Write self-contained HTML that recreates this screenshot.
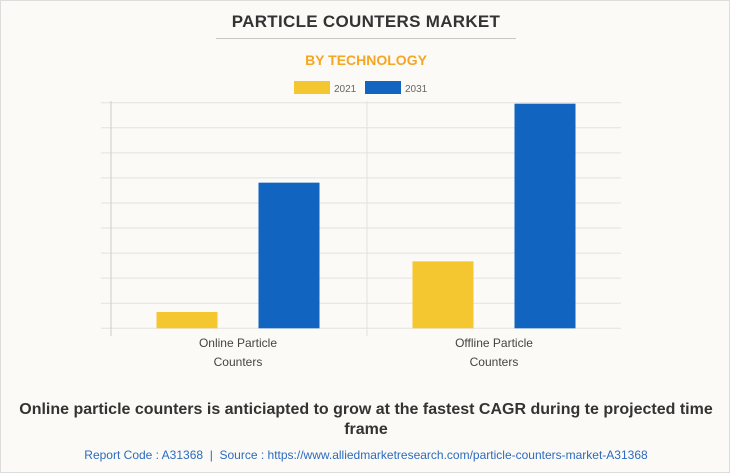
<!DOCTYPE html>
<html><head><meta charset="utf-8"><style>
body{margin:0;width:730px;height:473px;background:#fff;font-family:"Liberation Sans",sans-serif;overflow:hidden}
#card{position:absolute;left:0;top:0;width:728px;height:471px;border:1px solid #ddd;background:#fbfaf6}
.t{position:absolute;left:0;width:730px;text-align:center}
</style></head><body>
<div id="card">
<div class="t" style="top:11px;font-size:17px;font-weight:bold;color:#333;letter-spacing:0.3px">PARTICLE COUNTERS MARKET</div>
<div style="position:absolute;left:215px;top:37px;width:300px;height:1px;background:#c8c8c8"></div>
<div class="t" style="top:51px;font-size:14px;font-weight:bold;color:#f5a623">BY TECHNOLOGY</div>
<svg id="chart" width="730" height="380" style="position:absolute;left:0;top:0"></svg>
<div class="t" style="top:399px;font-size:16px;font-weight:bold;color:#333;line-height:20px">Online particle counters is anticiapted to grow at the fastest CAGR during te projected time<br>frame</div>
<div class="t" style="top:447px;font-size:12px;color:#2c6bbf">Report Code : A31368 &nbsp;|&nbsp; Source : https://www.alliedmarketresearch.com/particle-counters-market-A31368</div>
</div>
<script>
const categories=[["Online Particle","Counters"],["Offline Particle","Counters"]];
const series2021=[0.65,2.67];
const series2031=[5.81,8.96];
const seriesNames=["2021","2031"];
const colors=["#f4c630","#1264c1"];
const NS="http://www.w3.org/2000/svg";
const svg=document.getElementById('chart');
const x0=110,x1=622,yBase=327.3,yTop=101.7,yMax=9;
const y=v=>yBase-(v/yMax)*(yBase-yTop);
const catW=(x1-x0)/categories.length;
const cx=i=>x0+catW*(i+0.5)-1;
function mk(t,a){const e=document.createElementNS(NS,t);for(const k in a)e.setAttribute(k,a[k]);svg.appendChild(e);return e;}
for(let g=0;g<=yMax;g++){
 const l=mk('line',{x1:100,x2:620,y1:y(g),y2:y(g),stroke:'#e2e2e2','stroke-width':1});
 
 
}
const ax=mk('line',{x1:x0,x2:x0,y1:100,y2:335,stroke:'#ccc'});


for(let i=1;i<categories.length;i++){
 const s=mk('line',{x1:x0+catW*i,x2:x0+catW*i,y1:100,y2:335,stroke:'#e2e2e2'});
 
 
}
const bw=61;
[series2021,series2031].forEach((ser,si)=>{
 ser.forEach((v,i)=>{
  const c=cx(i)+(si===0?-51:51);
  const r=mk('rect',{x:c-bw/2,y:y(v),width:bw,height:yBase-y(v),fill:colors[si]});
  
  
 });
});
categories.forEach((c,i)=>{
 c.forEach((ln,j)=>{
  const t=mk('text',{x:cx(i),y:346+j*19,'text-anchor':'middle','font-size':12,fill:'#444','font-family':'Liberation Sans, sans-serif'});
  t.textContent=ln;
  
  
 });
});
seriesNames.forEach((n,i)=>{
 const lx=293+i*71;
 const r=mk('rect',{x:lx,y:80,width:36,height:13,fill:colors[i]});
 
 
 const t=mk('text',{x:lx+40,y:91,'font-size':10,fill:'#666','font-family':'Liberation Sans, sans-serif'});
 t.textContent=n;
 
 
});
</script>
</body></html>
